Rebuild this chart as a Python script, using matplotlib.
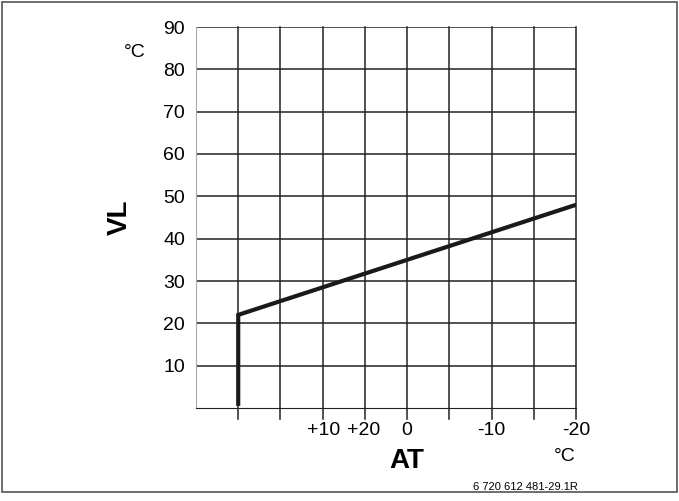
import matplotlib.pyplot as plt
from matplotlib.patches import Rectangle

plt.rcParams['font.family'] = ['Liberation Sans', 'DejaVu Sans']

# heating curve: grid column index vs flow temperature (VL)
curve_x = [1, 1, 9]
curve_y = [1, 22, 48]
y_ticks = [10, 20, 30, 40, 50, 60, 70, 80, 90]
x_labels = {3.03: '+10', 3.98: '+20', 5: '0', 7: '-10', 9: '-20'}

fig = plt.figure(figsize=(6.79, 5.01), dpi=100)
fig.patches.append(Rectangle((0.003, 0.018), 0.994, 0.978, transform=fig.transFigure,
                             fill=False, ec='#555555', lw=1.2))
ax = fig.add_axes([196 / 679, 1 - 408 / 501, 380 / 679, 381 / 501])
ax.set_xlim(0, 9)
ax.set_ylim(0, 90)
for x in range(1, 10):
    ax.plot([x, x], [-2.5, 90], color='#222222', lw=1.1, clip_on=False)
for y in y_ticks:
    ax.axhline(y, color='#222222', lw=1.1)
ax.plot(curve_x, curve_y, color='#1a1a1a', lw=3, solid_joinstyle='miter')
for s in ['top', 'right']:
    ax.spines[s].set_visible(False)
ax.spines['left'].set_color('#aaaaaa')
ax.spines['bottom'].set_color('#222222')
ax.set_xticks([])
ax.set_yticks(y_ticks)
ax.tick_params(axis='y', length=0, labelsize=14, pad=8)
for x, t in x_labels.items():
    ax.text(x, -3.2, t, ha='center', va='top', fontsize=14)
ax.text(-1.8, 45, 'VL', rotation=90, ha='center', va='center', fontsize=20, fontweight='bold')
ax.text(-1.45, 84, '°C', ha='center', va='center', fontsize=14)
ax.text(5, -9.5, 'AT', ha='center', va='top', fontsize=20, fontweight='bold')
ax.text(9, -9.5, '°C', ha='right', va='top', fontsize=14)
fig.text(525 / 679, 1 - 487 / 501, '6 720 612 481-29.1R', ha='center', va='center', fontsize=8)
fig.savefig('out.png', dpi=100)
